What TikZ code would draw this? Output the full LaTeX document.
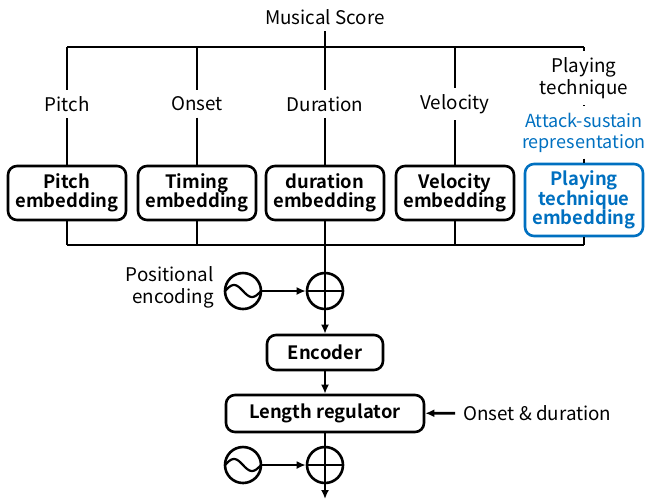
\documentclass[tikz,border=0pt]{standalone}
\usepackage{fontspec}
\setmainfont{Noto Sans CJK JP}[BoldFont={Noto Sans CJK JP Bold}]
\usetikzlibrary{positioning,calc,arrows.meta}
\definecolor{techblue}{HTML}{0070C0}
\tikzset{
  flow/.style={line width=1.3pt},
  arr/.style={flow,-{Latex[length=4.5pt,width=4pt]}},
  lbl/.style={inner sep=3pt,align=center,font=\fontsize{9.4}{11}\selectfont},
  embbox/.style={draw,flow,rounded corners=4.5pt,minimum width=59pt,minimum height=27pt,
    inner sep=0pt,align=center,font=\bfseries\fontsize{9.2}{9.7}\selectfont},
  srcnode/.style={draw,flow,circle,minimum size=18pt,inner sep=0pt},
}
\newcommand{\sinesource}[2]{%
  \node[srcnode] (#1) at #2 {};
  \draw[line width=1.1pt,shift={(#1)}] plot[domain=-18:18,samples=40,smooth] (\x,{6*sin(\x*10)});
}
\newcommand{\addernode}[2]{%
  \node[srcnode] (#1) at #2 {};
  \draw[flow] (#1.west) -- (#1.east) (#1.north) -- (#1.south);
}

\begin{document}
\begin{tikzpicture}[x=0.5pt,y=-0.5pt]
  \useasboundingbox (0,0) rectangle (646,500);

  \node[lbl] (score) at (325,17) {Musical Score};
  \coordinate (t1) at (67,47);  \coordinate (b1) at (67,245);
  \coordinate (t2) at (197,47); \coordinate (b2) at (197,245);
  \coordinate (t3) at (325,47); \coordinate (b3) at (325,245);
  \coordinate (t4) at (455,47); \coordinate (b4) at (455,245);
  \coordinate (t5) at (584,47); \coordinate (b5) at (584,245);

  \node[lbl] (lPitch) at (67,104) {Pitch};
  \node[lbl] (lOnset) at (197,104) {Onset};
  \node[lbl] (lDur) at (325,104) {Duration};
  \node[lbl] (lVel) at (455,104) {Velocity};
  \node[lbl] (lTech) at (584,78) {Playing\\technique};
  \node[lbl,text=techblue,font=\fontsize{9}{10.6}\selectfont] (lAttack) at (584,132.5) {Attack-sustain\\representation};

  \node[embbox] (ePitch) at (67,193) {Pitch\\embedding};
  \node[embbox] (eOnset) at (197,193) {Timing\\embedding};
  \node[embbox] (eDur) at (325,193) {duration\\embedding};
  \node[embbox] (eVel) at (455,193) {Velocity\\embedding};
  \node[embbox,draw=techblue,text=techblue,minimum height=36pt] (eTech) at (584,200) {Playing\\technique\\embedding};

  \draw[flow] (t1) -- (t5);
  \draw[flow] (score) -- (t3);
  \draw[flow] (t1) -- (lPitch) (lPitch) -- (ePitch) (ePitch) -- (b1);
  \draw[flow] (t2) -- (lOnset) (lOnset) -- (eOnset) (eOnset) -- (b2);
  \draw[flow] (t3) -- (lDur) (lDur) -- (eDur);
  \draw[flow] (t4) -- (lVel) (lVel) -- (eVel) (eVel) -- (b4);
  \draw[flow] (t5) -- (lTech) (lTech) -- (lAttack) (lAttack) -- (eTech) (eTech) -- (b5);
  \draw[flow] (b1) -- (b5);

  \sinesource{sine1}{(243,291)}
  \addernode{add1}{(325,291)}
  \node[lbl,anchor=east,align=right] (posenc) at (220,287) {Positional\\encoding};
  \draw[flow] (eDur) -- (add1);
  \draw[arr] (sine1) -- (add1);

  \node[embbox,minimum width=58pt,minimum height=17.5pt] (enc) at (325,352.5) {Encoder};
  \node[embbox,minimum width=99pt,minimum height=18.5pt] (lr) at (325,413.5) {Length regulator};
  \node[lbl,anchor=west,inner xsep=4pt] (onsdur) at (455,413) {Onset \& duration};
  \draw[arr] (add1) -- (enc);
  \draw[arr] (enc) -- (lr);
  \draw[arr] (onsdur) -- (lr);

  \sinesource{sine2}{(243,465)}
  \addernode{add2}{(325,465)}
  \coordinate (out) at (325,499);
  \draw[flow] (lr) -- (add2);
  \draw[arr] (sine2) -- (add2);
  \draw[arr] (add2) -- (out);
\end{tikzpicture}
\end{document}
